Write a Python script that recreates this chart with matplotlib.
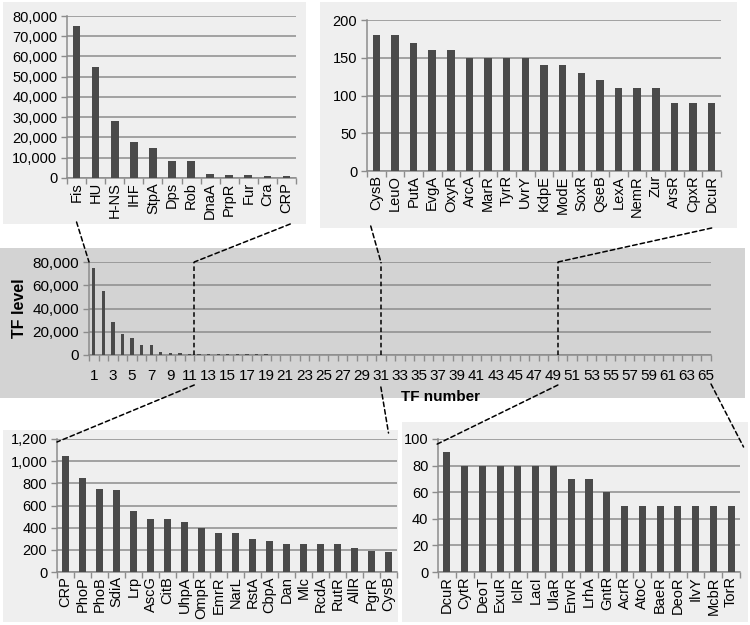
import numpy as np
import matplotlib
matplotlib.use("Agg")
import matplotlib.pyplot as plt
import matplotlib.patches as patches
from matplotlib.patches import ConnectionPatch
from matplotlib.ticker import FuncFormatter, MultipleLocator
from matplotlib.transforms import blended_transform_factory

plt.rcParams['font.family'] = ['Liberation Sans', 'DejaVu Sans']

# ---- data (TF levels) ----
top_left_names = ["Fis", "HU", "H-NS", "IHF", "StpA", "Dps", "Rob", "DnaA",
                  "PrpR", "Fur", "Cra", "CRP"]
top_left_values = [75000, 55000, 28000, 18000, 15000, 8500, 8500, 2200,
                   1500, 1300, 1100, 1050]

bottom_left_names = ["CRP", "PhoP", "PhoB", "SdiA", "Lrp", "AscG", "CitB", "UhpA",
                     "OmpR", "EmrR", "NarL", "RstA", "CbpA", "Dan", "Mlc", "RcdA",
                     "RutR", "AllR", "PgrR", "CysB"]
bottom_left_values = [1050, 850, 750, 740, 550, 480, 480, 450, 400, 350, 350, 300,
                      280, 250, 250, 250, 250, 220, 190, 180]

top_right_names = ["CysB", "LeuO", "PutA", "EvgA", "OxyR", "ArcA", "MarR", "TyrR",
                   "UvrY", "KdpE", "ModE", "SoxR", "QseB", "LexA", "NemR", "Zur",
                   "ArsR", "CpxR", "DcuR"]
top_right_values = [180, 180, 170, 160, 160, 150, 150, 150, 150, 140, 140, 130,
                    120, 110, 110, 110, 90, 90, 90]

bottom_right_names = ["DcuR", "CytR", "DeoT", "ExuR", "IclR", "LacI", "UlaR", "EnvR",
                      "LrhA", "GntR", "AcrR", "AtoC", "BaeR", "DeoR", "IlvY", "McbR",
                      "TorR"]
bottom_right_values = [90, 80, 80, 80, 80, 80, 80, 70, 70, 60, 50, 50, 50, 50, 50,
                       50, 50]

# overview: all 65 TFs in rank order (panels share their end TF)
all_values = (top_left_values + bottom_left_values[1:] + top_right_values[1:]
              + bottom_right_values[1:])

bar_color = "#4a4a4a"
grid_color = "#8c8c8c"
light_bg = "#efefef"
mid_bg = "#d3d3d3"

W, H = 750, 625
fig = plt.figure(figsize=(W / 100, H / 100), dpi=100)
fig.patch.set_facecolor("white")


def px_rect(x0, y0, x1, y1):
    """pixel box (top-left origin) -> figure fraction [l, b, w, h]"""
    return [x0 / W, 1 - y1 / H, (x1 - x0) / W, (y1 - y0) / H]


def fy(y):
    return 1 - y / H


def add_bg(x0, y0, x1, y1, color):
    l, b, w, h = px_rect(x0, y0, x1, y1)
    fig.patches.append(patches.Rectangle((l, b), w, h, transform=fig.transFigure,
                                         facecolor=color, edgecolor="none", zorder=-5))


def fmt_comma(v, pos):
    return f"{v:,.0f}"


def style_axes(ax, n, ymax, step, fs):
    ax.set_facecolor("none")
    ax.set_xlim(-0.5, n - 0.5)
    ax.set_ylim(0, ymax)
    ax.set_xticks(np.arange(n + 1) - 0.5, minor=True)
    ax.tick_params(axis="x", which="major", length=0, pad=3)
    ax.tick_params(axis="x", which="minor", length=4, width=1, color=grid_color,
                   direction="out")
    ax.yaxis.set_major_locator(MultipleLocator(step))
    ax.yaxis.set_major_formatter(FuncFormatter(fmt_comma))
    ax.tick_params(axis="y", length=4, width=1, color=grid_color, labelsize=fs, pad=3)
    ax.grid(True, axis="y", color=grid_color, linewidth=1.1, zorder=0)
    for s in ["top", "right"]:
        ax.spines[s].set_visible(False)
    for s in ["left", "bottom"]:
        ax.spines[s].set_color(grid_color)
        ax.spines[s].set_linewidth(1.1)


def zoom_panel(box, names, values, ymax, step, fs=10.5):
    ax = fig.add_axes(px_rect(*box))
    x = np.arange(len(names))
    ax.bar(x, values, 0.4, color=bar_color, zorder=3)
    style_axes(ax, len(names), ymax, step, fs)
    ax.set_xticks(x)
    ax.set_xticklabels(names, rotation=90, fontsize=fs)
    return ax


# panel backgrounds
add_bg(3, 2, 306, 224, light_bg)
add_bg(320, 2, 737, 228, light_bg)
add_bg(0, 248, 745, 398, mid_bg)
add_bg(3, 430, 398, 622, light_bg)
add_bg(402, 422, 748, 622, light_bg)

# zoomed panels
ax_tl = zoom_panel((67, 16, 296, 178), top_left_names, top_left_values, 80000, 10000)
ax_tr = zoom_panel((367, 20, 721, 171), top_right_names, top_right_values, 200, 50)
ax_bl = zoom_panel((57, 439, 397, 572), bottom_left_names, bottom_left_values, 1200, 200)
ax_br = zoom_panel((438, 439, 740, 572), bottom_right_names, bottom_right_values, 100, 20)

# overview panel
ax_m = fig.add_axes(px_rect(89, 262, 711, 355))
xm = np.arange(1, len(all_values) + 1)
ax_m.bar(xm, all_values, 0.35, color=bar_color, zorder=3)
style_axes(ax_m, len(all_values), 80000, 20000, 11)
ax_m.set_xlim(0.5, len(all_values) + 0.5)
ax_m.set_xticks(np.arange(0.5, len(all_values) + 1, 1), minor=True)
ax_m.set_xticks(xm[::2])
ax_m.set_xticklabels([str(v) for v in xm[::2]], fontsize=11)
ax_m.tick_params(axis="x", which="major", pad=10)
ax_m.set_xlabel("TF number", fontsize=11, fontweight="bold", labelpad=2)
ax_m.xaxis.set_label_coords(0.565, -0.38)
ax_m.set_ylabel("TF level", fontsize=11.5, fontweight="bold", labelpad=4)

# dashed connector lines
dash = dict(color="black", linestyle=(0, (3, 2)), linewidth=1.1, zorder=5)


def connect(pa, ta, pb, tb):
    con = ConnectionPatch(xyA=pa, coordsA=ta, xyB=pb, coordsB=tb, **dash)
    fig.add_artist(con)


def bl(ax):
    # x in data, y in figure fraction
    return blended_transform_factory(ax.transData, fig.transFigure)


# top-left zoom <-> TFs 1-11
connect((0, fy(222)), bl(ax_tl), (0.5, 80000), ax_m.transData)
connect((11.2, fy(224)), bl(ax_tl), (11.5, 80000), ax_m.transData)
# top-right zoom <-> TFs 31-49
connect((-0.3, fy(226)), bl(ax_tr), (31, 80000), ax_m.transData)
connect((18.0, fy(228)), bl(ax_tr), (49.5, 80000), ax_m.transData)
# vertical markers in overview
for xv in [11.5, 31, 49.5]:
    ax_m.plot([xv, xv], [0, 80000], **dash)
# bottom-left zoom <-> TFs 12-31
connect((11.5, fy(385)), bl(ax_m), (-0.5, fy(442)), bl(ax_bl))
connect((31, fy(387)), bl(ax_m), (19.0, fy(433)), bl(ax_bl))
# bottom-right zoom <-> TFs 49-65
connect((49.5, fy(385)), bl(ax_m), (-0.65, fy(445)), bl(ax_br))
connect((65.5, fy(384)), bl(ax_m), (16.7, fy(447)), bl(ax_br))

fig.savefig("out.png", dpi=100)
plt.close(fig)
